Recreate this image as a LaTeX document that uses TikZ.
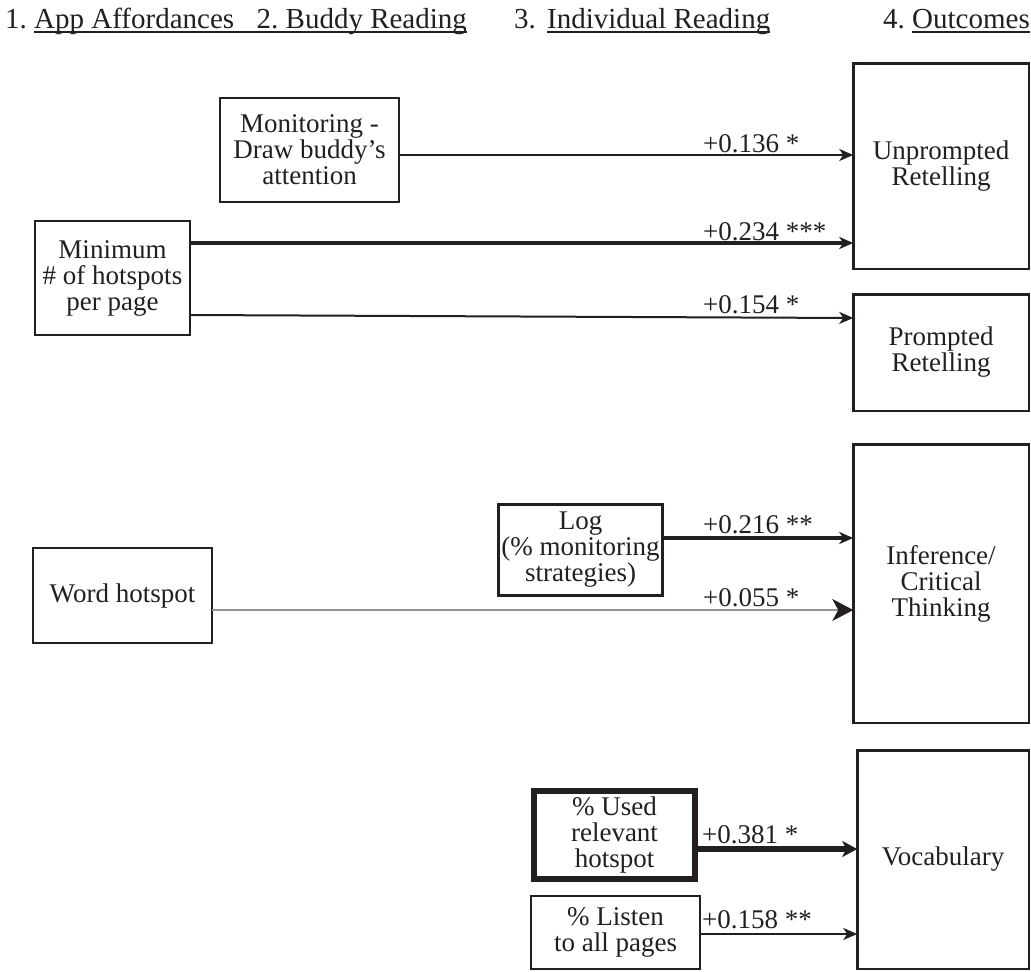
\documentclass[tikz,border=0pt]{standalone}
\usepackage{fontspec}
\setmainfont{Liberation Serif}
\usetikzlibrary{arrows.meta}
\definecolor{ink}{HTML}{231F20}
\newcommand{\hdul}[1]{\setbox0=\hbox{#1}\rlap{\rule[-4.7pt]{\wd0}{1.4pt}}\box0}
\tikzset{
  txt/.style={font=\fontsize{27}{26}\selectfont, text=ink},
  box/.style={txt, draw=ink, line width=2pt, align=center, inner sep=0pt, outer sep=0pt},
  outcome/.style={box, line width=2.5pt, minimum width=175.5pt},
  coef/.style={txt, anchor=base west, inner sep=0pt},
  link/.style={draw=ink, line width=2pt, -{Stealth[length=14pt,width=12pt,inset=4pt]}},
  hdr/.style={font=\fontsize{29}{30}\selectfont, text=ink, anchor=base west, inner sep=0pt}
}

\begin{document}
\begin{tikzpicture}[x=1pt,y=-1pt]
    \useasboundingbox (0,0) rectangle (1031,972);
    % headings
    \node[hdr] (h1) at (5,28) {1.\ \hdul{App Affordances\hspace{22.5pt}2.\ Buddy Reading}};
    \node[hdr] (h3) at (514,28) {3.\hspace{11.25pt}\hdul{Individual Reading}};
    \node[hdr] (h4) at (883,28) {4.\ \hdul{Outcomes}};

    % predictors
    \node[box, minimum width=179pt, minimum height=104pt] (mon) at (309.5,150) {Monitoring -\\Draw buddy’s\\attention};
    \node[box, minimum width=155pt, minimum height=114pt] (mini) at (112.5,278) {Minimum\\\# of hotspots\\per page};
    \node[box, minimum width=179pt, minimum height=95pt] (word) at (122.5,595.5) {Word hotspot};
    \node[box, line width=3pt, minimum width=164pt, minimum height=91pt] (log) at (580.5,550) {Log\\(\% monitoring\\strategies)};
    \node[box, line width=6pt, minimum width=161pt, minimum height=88pt] (used) at (614.5,835) {\% Used\\relevant\\hotspot};
    \node[box, minimum width=169pt, minimum height=73pt] (listen) at (615.5,932) {\% Listen\\to all pages};

    % outcomes
    \node[outcome, minimum height=205.5pt] (unp) at (941,166) {Unprompted\\Retelling};
    \node[outcome, minimum height=116.5pt] (pro) at (941,352.5) {Prompted\\Retelling};
    \node[outcome, minimum height=278.5pt] (inf) at (941,583.5) {Inference/\\Critical\\Thinking};
    \node[outcome, minimum width=171.5pt, minimum height=218.5pt] (voc) at (943,859.5) {Vocabulary};

    % paths
    \draw[link] (mon.east |- 0,155) -- (unp.west |- 0,155);
    \draw[link, line width=3.5pt] (mini.east |- 0,243) -- (unp.west |- 0,243);
    \draw[link] (mini.east |- 0,315) -- (pro.west |- 0,318);
    \draw[link, line width=3.2pt] (log.east |- 0,538) -- (inf.west |- 0,538);
    \draw[link, draw=gray!85, line width=1.2pt, -{Stealth[length=21pt,width=22pt,inset=6pt,color=ink]}] (word.east |- 0,610) -- (inf.west |- 0,610);
    \draw[link, line width=5.5pt, -{Stealth[length=15pt,width=16pt,inset=4pt]}] (used.east |- 0,849) -- (voc.west |- 0,849);
    \draw[link] (listen.east |- 0,934) -- (voc.west |- 0,934);

    \node[coef] (c1) at (703,152) {+0.136 *};
    \node[coef] (c2) at (703,240) {+0.234 ***};
    \node[coef] (c3) at (703,313) {+0.154 *};
    \node[coef] (c4) at (703,533) {+0.216 **};
    \node[coef] (c5) at (703,606) {+0.055 *};
    \node[coef] (c6) at (702,843) {+0.381 *};
    \node[coef] (c7) at (702,928) {+0.158 **};
\end{tikzpicture}
\end{document}
